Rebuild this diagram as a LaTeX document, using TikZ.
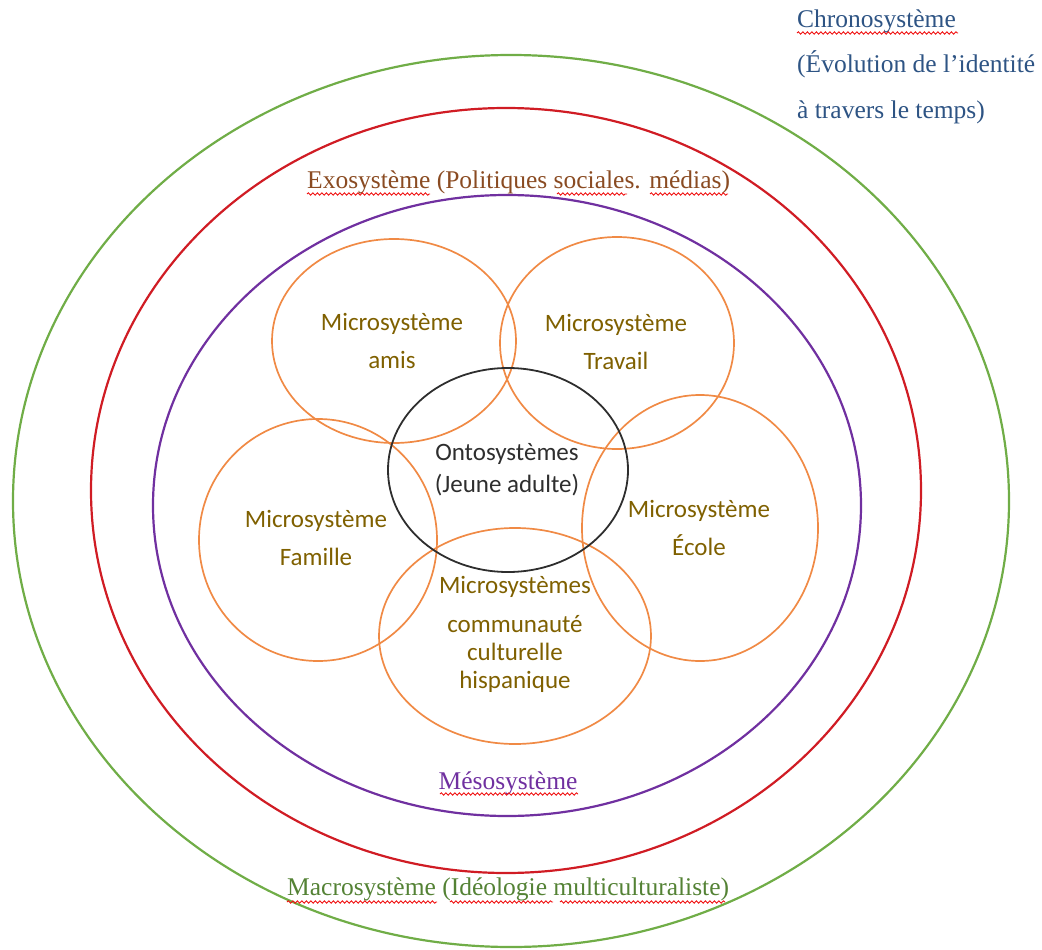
\documentclass[tikz,border=0pt]{standalone}
\usepackage{fontspec}
\setmainfont{Liberation Serif}
\newfontfamily\calib{Carlito}
\usetikzlibrary{decorations.pathmorphing}
\definecolor{cgreen}{HTML}{70AD47}
\definecolor{cred}{HTML}{D01C24}
\definecolor{cpurple}{HTML}{7030A0}
\definecolor{corange}{HTML}{F08A45}
\definecolor{cblack}{HTML}{2E2E2E}
\definecolor{colive}{HTML}{7F6000}
\definecolor{cbrown}{HTML}{8A4B22}
\definecolor{cdgreen}{HTML}{548235}
\definecolor{cblue}{HTML}{2E5484}
\definecolor{cwave}{HTML}{F01010}
\begin{document}
\begin{tikzpicture}[x=1pt,y=-1pt,
  outer/.style={line width=2.2pt},
  micro/.style={corange, line width=1.7pt},
  microtext/.style={colive, align=center, font=\calib\fontsize{25}{28}\selectfont},
  sertext/.style={font=\fontsize{25.5}{30}\selectfont, inner sep=0pt},
  wavy/.style={cwave, line width=0.9pt, decorate, decoration={snake, amplitude=1.2pt, segment length=4.5pt}}]
\useasboundingbox (0,0) rectangle (1042,950);
% outer ellipses
\draw[outer, cgreen] (511,501) ellipse [x radius=498pt, y radius=446pt];
\draw[outer, cred] (506,490.5) ellipse [x radius=415pt, y radius=382.5pt];
\draw[outer, cpurple] (507,505.5) ellipse [x radius=354pt, y radius=310.5pt];
% microsystems
\draw[micro] (394,341) ellipse [x radius=122pt, y radius=102pt];
\draw[micro] (617,343) ellipse [x radius=117pt, y radius=106pt];
\draw[micro] (318,540) ellipse [x radius=119pt, y radius=121pt];
\draw[micro] (700,528) ellipse [x radius=118pt, y radius=133pt];
\draw[micro] (515,636) ellipse [x radius=136pt, y radius=108pt];
% ontosystem
\draw[cblack, line width=1.8pt] (508,470) ellipse [x radius=120pt, y radius=102pt];
% inner texts
\node[microtext] (amis) at (392,341) {Microsystème\\[10pt]amis};
\node[microtext] (travail) at (616,342) {Microsystème\\[10pt]Travail};
\node[microtext] (famille) at (316,538) {Microsystème\\[10pt]Famille};
\node[microtext] (ecole) at (699,528) {Microsystème\\[10pt]École};
\node[microtext] (commu) at (515,634) {Microsystèmes\\[11pt]communauté\\culturelle\\hispanique};
\node[microtext, cblack, font=\calib\fontsize{25}{32}\selectfont] (onto) at (507,470) {Ontosystèmes\\(Jeune adulte)};
% serif labels
\node[sertext, cblue, anchor=base west] (chrono1) at (797,28) {Chronosystème};
\node[sertext, cblue, anchor=base west] (chrono2) at (797,73) {(Évolution de l’identité};
\node[sertext, cblue, anchor=base west] (chrono3) at (797,118) {à travers le temps)};
\node[sertext, cbrown, anchor=base west] (exo) at (307,188) {Exosystème (Politiques sociales. médias)};
\node[sertext, cpurple, anchor=base] (meso) at (508,789) {Mésosystème};
\node[sertext, cdgreen, anchor=base west] (macro) at (287,895) {Macrosystème (Idéologie multiculturaliste)};
% spell-check underlines
\draw[wavy] (797,33) -- (958,33);
\draw[wavy] (307,194) -- (430,194);
\draw[wavy] (557,194) -- (627,194);
\draw[wavy] (650,194) -- (728,194);
\draw[wavy] (440,794) -- (578,794);
\draw[wavy] (287,902) -- (437,902);
\draw[wavy] (450,902) -- (553,902);
\draw[wavy] (560,902) -- (725,902);
\end{tikzpicture}
\end{document}
